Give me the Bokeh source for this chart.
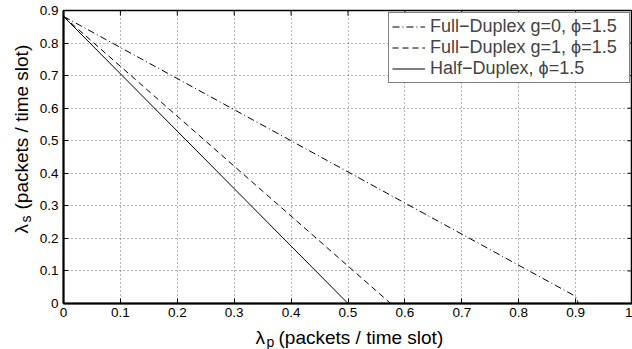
import math
from bokeh.plotting import figure
from bokeh.layouts import column, row
from bokeh.models import Range1d, FixedTicker, Legend, LegendItem, Label
from bokeh.embed import file_html
from bokeh.resources import INLINE

# data
fd0_x = [0.0, 0.9, 0.905]
fd0_y = [0.882, 0.022, 0.0]
fd1_x = [0.0, 0.575]
fd1_y = [0.882, 0.0]
hd_x = [0.0, 0.5]
hd_y = [0.882, 0.0]
labels = ["Full\u2212Duplex g=0, \u03d5=1.5", "Full\u2212Duplex g=1, \u03d5=1.5", "Half\u2212Duplex, \u03d5=1.5"]
xticks = [0, 0.1, 0.2, 0.3, 0.4, 0.5, 0.6, 0.7, 0.8, 0.9, 1.0]
yticks = [0, 0.1, 0.2, 0.3, 0.4, 0.5, 0.6, 0.7, 0.8, 0.9]
axis_sym = "\u03bb"
x_sub = "p"
y_sub = "s"
axis_unit = "(packets / time slot)"

FONT = "Liberation Sans"
W, H = 632, 349
YLAB_W = 36
MAIN_H = 323
XLAB_H = H - MAIN_H

p = figure(width=W - YLAB_W, height=MAIN_H, output_backend="svg", toolbar_location=None,
           x_range=Range1d(0, 1), y_range=Range1d(0, 0.9),
           min_border_left=62 - YLAB_W, min_border_top=10, min_border_bottom=20,
           min_border_right=0)
p.background_fill_color = "white"
p.border_fill_color = "white"
p.outline_line_color = "black"
p.outline_line_width = 1.5

r0 = p.line(fd0_x, fd0_y, line_color="black", line_width=1, line_dash="7 3 1 3")
r1 = p.line(fd1_x, fd1_y, line_color="black", line_width=1, line_dash="6 4")
r2 = p.line(hd_x, hd_y, line_color="black", line_width=1)

# inner ticks on top and right edges
top_y = [0.9] * len(xticks)
right_x = [1.0] * len(yticks)
p.ray(x=xticks, y=top_y, length=5, length_units="screen", angle=-math.pi / 2,
      line_color="black", line_width=1)
p.ray(x=right_x, y=yticks, length=5, length_units="screen", angle=math.pi,
      line_color="black", line_width=1)

for ax in (p.xaxis[0], p.yaxis[0]):
    ax.axis_line_width = 2
    ax.major_tick_in = 5
    ax.major_tick_out = 0
    ax.minor_tick_line_color = None
    ax.major_label_text_font = FONT
    ax.major_label_text_font_size = "13.5px"
    ax.major_label_text_color = "black"
    ax.major_label_overrides = {0: "0", 1: "1"}

p.xaxis[0].ticker = FixedTicker(ticks=xticks)
p.yaxis[0].ticker = FixedTicker(ticks=yticks)
p.xaxis[0].major_label_standoff = 4
p.yaxis[0].major_label_standoff = 5

p.grid.grid_line_color = "black"
p.grid.grid_line_alpha = 0.6
p.grid.grid_line_dash = "1 3"
p.xgrid.ticker = FixedTicker(ticks=xticks)
p.ygrid.ticker = FixedTicker(ticks=yticks)

legend = Legend(items=[LegendItem(label=labels[0], renderers=[r0]),
                       LegendItem(label=labels[1], renderers=[r1]),
                       LegendItem(label=labels[2], renderers=[r2])],
                location="top_right")
legend.border_line_color = "black"
legend.border_line_width = 1
legend.label_text_font = FONT
legend.label_text_font_size = "18px"
legend.glyph_width = 33
legend.label_standoff = 5
legend.label_width = 196
legend.spacing = 0
legend.padding = 3
legend.margin = 2
legend.label_height = 21
legend.glyph_height = 21
legend.background_fill_alpha = 1
p.add_layout(legend, "center")


def blank(w, h):
    f = figure(width=w, height=h, output_backend="svg", toolbar_location=None,
               x_axis_location=None, y_axis_location=None,
               min_border=0, min_border_left=0, min_border_right=0,
               min_border_top=0, min_border_bottom=0)
    f.outline_line_color = None
    f.grid.visible = False
    f.background_fill_color = "white"
    f.border_fill_color = "white"
    return f


def lab(f, text, size, sx, sy, angle=0.0):
    f.add_layout(Label(x=sx, y=sy, x_units="screen", y_units="screen", text=text,
                       angle=angle, text_font=FONT, text_font_size=size,
                       text_color="black", text_baseline="alphabetic",
                       text_align="left"))


# y-axis title (screen origin = bottom-left of this panel; empirical shift)
YSHIFT = 20
ylab = blank(YLAB_W, MAIN_H)
lab(ylab, axis_sym, "19px", 21, MAIN_H - 233 - YSHIFT, math.pi / 2)
lab(ylab, y_sub, "14px", 25, MAIN_H - 222 - YSHIFT, math.pi / 2)
lab(ylab, axis_unit, "19px", 21, MAIN_H - 209 - YSHIFT, math.pi / 2)

# x-axis title
xlab = blank(W, XLAB_H)
lab(xlab, axis_sym, "19px", 255, H - 337)
lab(xlab, x_sub, "14px", 266, H - 341)
lab(xlab, axis_unit, "19px", 278, H - 337)

layout = column(row(ylab, p, spacing=0), xlab, spacing=0)

open("out.html", "w").write(file_html(layout, INLINE))
